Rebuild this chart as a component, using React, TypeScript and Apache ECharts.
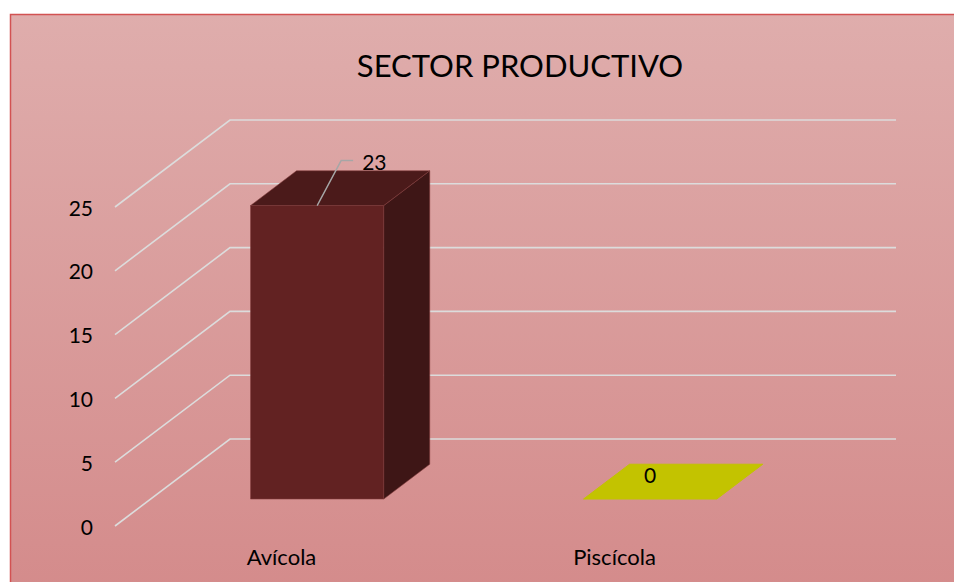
import React, { useEffect, useRef } from "react";
import * as echarts from "echarts";

const categories = ["Avícola", "Piscícola"];
const values = [23, 0];
const yTicks = [0, 5, 10, 15, 20, 25];
const titleText = "SECTOR PRODUCTIVO";

const faceColors = [
  { front: "#622222", top: "#4b1a1a", side: "#3e1616", edge: "rgba(130,60,60,0.55)" },
  { front: "#c3c300", top: "#c3c300", side: "#a3a300", edge: "rgba(195,195,0,1)" },
];

const FONT = "Lato, 'Open Sans', sans-serif";
const DX = 115;
const DY = -87;
const T0 = 0.31;
const T1 = 0.71;

export default function App() {
  const ref = useRef<HTMLDivElement>(null);
  useEffect(() => {
    if (!ref.current) return;
    const chart = echarts.init(ref.current, null, { renderer: "svg" });
    const option: any = {
      animation: false,
      title: {
        text: titleText,
        left: 515,
        top: 44,
        textAlign: "center",
        textStyle: { fontFamily: FONT, fontSize: 31, fontWeight: "normal", color: "#000" },
      },
      graphic: [
        {
          type: "rect",
          z: -10,
          silent: true,
          shape: { x: 10, y: 14, width: 960, height: 580 },
          style: {
            fill: new echarts.graphic.LinearGradient(0, 0, 0, 1, [
              { offset: 0, color: "#dfadac" },
              { offset: 1, color: "#d48b8b" },
            ]),
          },
        },
        {
          type: "polyline",
          z: -9,
          silent: true,
          shape: { points: [[10.5, 600], [10.5, 14.5], [960, 14.5]] },
          style: { stroke: "#d25252", lineWidth: 1.5, fill: null },
        },
      ],
      grid: { left: 115, right: 173, top: 207, bottom: 56 },
      xAxis: {
        type: "category",
        data: categories,
        axisLine: { show: false },
        axisTick: { show: false },
        axisLabel: { color: "#000", fontFamily: FONT, fontSize: 22, margin: 19 },
      },
      yAxis: {
        type: "value",
        min: 0,
        max: 25,
        interval: 5,
        axisLine: { show: false },
        axisTick: { show: false },
        splitLine: { show: false },
        axisLabel: { color: "#000", fontFamily: FONT, fontSize: 21, margin: 22 },
      },
      series: [
        {
          type: "custom",
          z: 1,
          silent: true,
          data: yTicks.map((v) => [0, v]),
          renderItem: (params: any, api: any) => {
            const cs = params.coordSys;
            const y = api.coord([0, api.value(1)])[1];
            const left = cs.x;
            const right = cs.x + cs.width;
            return {
              type: "polyline",
              shape: {
                points: [
                  [left, y],
                  [left + DX, y + DY],
                  [right + DX, y + DY],
                ],
              },
              style: { stroke: "#dcdcdc", lineWidth: 1.6, fill: null },
            };
          },
        },
        {
          type: "custom",
          z: 3,
          data: values.map((v, i) => [i, v]),
          renderItem: (params: any, api: any) => {
            const i = api.value(0);
            const v = api.value(1);
            const base = api.coord([i, 0]);
            const top = api.coord([i, v]);
            const bw = api.size([1, 0])[0] * 0.4;
            const cx = base[0] + T0 * DX;
            const x0 = cx - bw / 2;
            const x1 = cx + bw / 2;
            const yb = base[1] + T0 * DY;
            const yt = top[1] + T0 * DY;
            const ddx = (T1 - T0) * DX;
            const ddy = (T1 - T0) * DY;
            const c = faceColors[i % faceColors.length];
            const children: any[] = [];
            if (yb - yt > 0.5) {
              children.push({
                type: "rect",
                shape: { x: x0, y: yt, width: bw, height: yb - yt },
                style: { fill: c.front, stroke: c.edge, lineWidth: 1 },
              });
              children.push({
                type: "polygon",
                shape: {
                  points: [
                    [x1, yt],
                    [x1 + ddx, yt + ddy],
                    [x1 + ddx, yb + ddy],
                    [x1, yb],
                  ],
                },
                style: { fill: c.side, stroke: c.edge, lineWidth: 1 },
              });
            }
            children.push({
              type: "polygon",
              shape: {
                points: [
                  [x0, yt],
                  [x1, yt],
                  [x1 + ddx, yt + ddy],
                  [x0 + ddx, yt + ddy],
                ],
              },
              style: { fill: c.top, stroke: c.edge, lineWidth: 1 },
            });
            if (v > 0) {
              children.push({
                type: "polyline",
                shape: {
                  points: [
                    [cx, yt],
                    [cx + 24, yt - 45],
                    [cx + 36, yt - 45],
                  ],
                },
                style: { stroke: "#a6a6a6", lineWidth: 1.4, fill: null },
              });
              children.push({
                type: "text",
                style: {
                  text: String(v),
                  x: cx + 45,
                  y: yt - 44,
                  fill: "#000",
                  fontFamily: FONT,
                  fontSize: 21,
                  align: "left",
                  verticalAlign: "middle",
                },
              });
            } else {
              children.push({
                type: "text",
                style: {
                  text: String(v),
                  x: cx,
                  y: yt - 25,
                  fill: "#000",
                  fontFamily: FONT,
                  fontSize: 21,
                  align: "center",
                  verticalAlign: "middle",
                },
              });
            }
            return { type: "group", children };
          },
        },
      ],
    };
    chart.setOption(option);
    return () => chart.dispose();
  }, []);
  return (
    <div
      ref={ref}
      style={{ position: "fixed", left: 0, top: 0, width: 954, height: 582, background: "#fff" }}
    />
  );
}
